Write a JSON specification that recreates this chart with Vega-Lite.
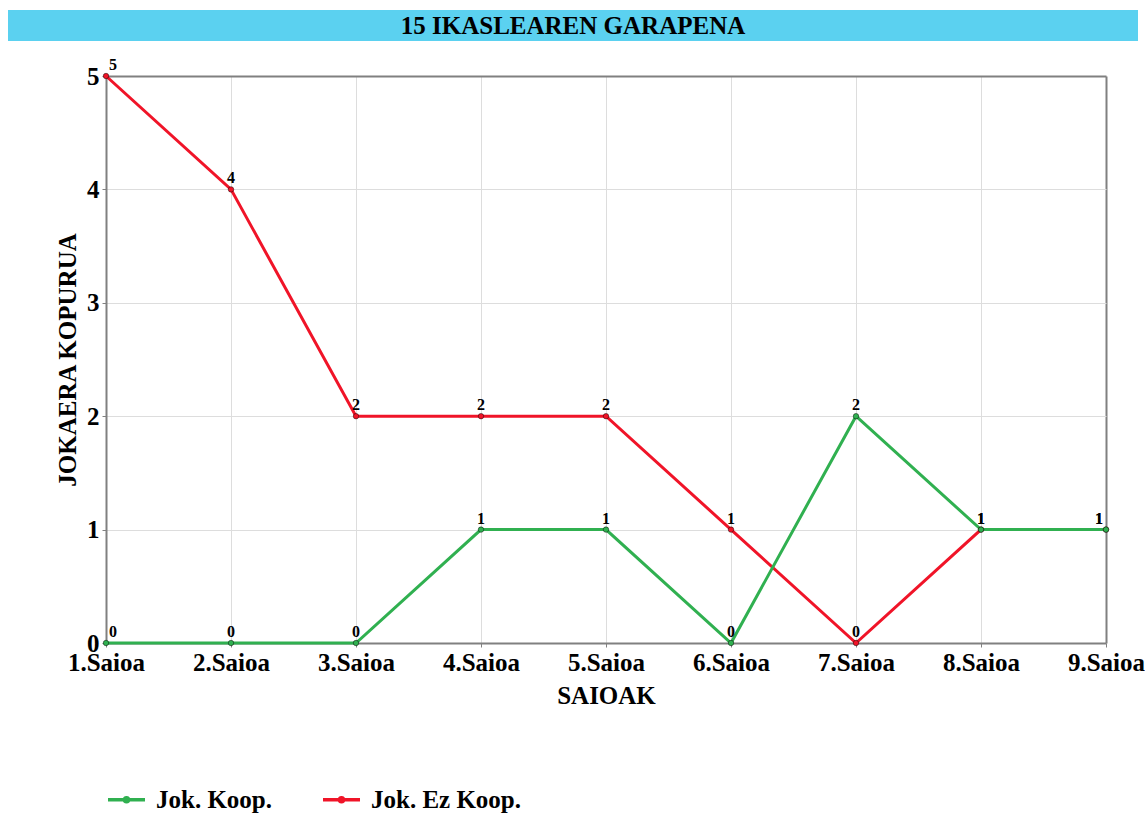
{
  "$schema": "https://vega.github.io/schema/vega-lite/v6.json",
  "padding": {"left": 8, "top": 10, "right": 5, "bottom": 2},
  "background": "white",
  "config": {"font": "Liberation Serif", "view": {"stroke": null}},
  "spacing": 16,
  "resolve": {"legend": {"color": "independent"}},
  "vconcat": [
    {
      "width": 1130,
      "height": 31,
      "view": {"fill": "#5BD1F0", "stroke": null},
      "data": {"values": [{"izenburua": "15 IKASLEAREN GARAPENA"}]},
      "mark": {"type": "text", "font": "Liberation Serif", "fontWeight": "bold", "fontSize": 25, "baseline": "middle", "align": "center", "color": "black"},
      "encoding": {"text": {"field": "izenburua", "type": "nominal"}}
    },
    {
      "spacing": 0,
      "resolve": {"legend": {"color": "independent"}},
      "hconcat": [
        {
          "width": 47,
          "height": 1,
          "view": {"stroke": null},
          "data": {"values": []},
          "mark": "point"
        },
        {
          "width": 1000,
          "height": 567,
          "view": {"stroke": null},
          "data": {
            "values": [
              {"saioa": "1.Saioa", "multzoa": "Jok. Ez Koop.", "balioa": 5},
              {"saioa": "2.Saioa", "multzoa": "Jok. Ez Koop.", "balioa": 4},
              {"saioa": "3.Saioa", "multzoa": "Jok. Ez Koop.", "balioa": 2},
              {"saioa": "4.Saioa", "multzoa": "Jok. Ez Koop.", "balioa": 2},
              {"saioa": "5.Saioa", "multzoa": "Jok. Ez Koop.", "balioa": 2},
              {"saioa": "6.Saioa", "multzoa": "Jok. Ez Koop.", "balioa": 1},
              {"saioa": "7.Saioa", "multzoa": "Jok. Ez Koop.", "balioa": 0},
              {"saioa": "8.Saioa", "multzoa": "Jok. Ez Koop.", "balioa": 1},
              {"saioa": "9.Saioa", "multzoa": "Jok. Ez Koop.", "balioa": 1},
              {"saioa": "1.Saioa", "multzoa": "Jok. Koop.", "balioa": 0},
              {"saioa": "2.Saioa", "multzoa": "Jok. Koop.", "balioa": 0},
              {"saioa": "3.Saioa", "multzoa": "Jok. Koop.", "balioa": 0},
              {"saioa": "4.Saioa", "multzoa": "Jok. Koop.", "balioa": 1},
              {"saioa": "5.Saioa", "multzoa": "Jok. Koop.", "balioa": 1},
              {"saioa": "6.Saioa", "multzoa": "Jok. Koop.", "balioa": 0},
              {"saioa": "7.Saioa", "multzoa": "Jok. Koop.", "balioa": 2},
              {"saioa": "8.Saioa", "multzoa": "Jok. Koop.", "balioa": 1},
              {"saioa": "9.Saioa", "multzoa": "Jok. Koop.", "balioa": 1}
            ]
          },
          "encoding": {
            "x": {
              "field": "saioa", "type": "nominal", "sort": null,
              "scale": {"type": "point", "padding": 0},
              "axis": {
                "title": "SAIOAK", "labelAngle": 0, "labelFontSize": 25, "labelFontWeight": "bold",
                "labelColor": "black", "labelPadding": 3, "tickSize": 4, "tickColor": "#808080",
                "domainColor": "#808080", "domainWidth": 2, "grid": true,
                "gridColor": {"condition": {"test": "datum.value === '9.Saioa'", "value": "#808080"}, "value": "#DDDDDD"},
                "gridWidth": {"condition": {"test": "datum.value === '9.Saioa'", "value": 2}, "value": 1},
                "titleFontSize": 25, "titleFontWeight": "bold", "titleColor": "black", "titlePadding": 8
              }
            },
            "y": {
              "field": "balioa", "type": "quantitative",
              "scale": {"domain": [0, 5], "nice": false},
              "axis": {
                "title": "JOKAERA KOPURUA", "values": [0, 1, 2, 3, 4, 5], "format": "d",
                "labelFontSize": 25, "labelFontWeight": "bold", "labelColor": "black", "labelPadding": 3,
                "tickSize": 4, "tickColor": "#808080", "domainColor": "#808080", "domainWidth": 2, "grid": true,
                "gridColor": {"condition": {"test": "datum.value === 5", "value": "#808080"}, "value": "#DDDDDD"},
                "gridWidth": {"condition": {"test": "datum.value === 5", "value": 2}, "value": 1},
                "titleFontSize": 25, "titleFontWeight": "bold", "titleColor": "black", "titlePadding": 6
              }
            }
          },
          "layer": [
            {
              "mark": {"type": "line", "strokeWidth": 3},
              "encoding": {
                "color": {
                  "field": "multzoa", "type": "nominal",
                  "scale": {"domain": ["Jok. Koop.", "Jok. Ez Koop."], "range": ["#30B050", "#F01428"]},
                  "legend": {
                    "title": null, "orient": "bottom", "direction": "horizontal",
                    "symbolType": "M-1,0L1,0M0.11,0A0.11,0.11,0,1,1,-0.11,0A0.11,0.11,0,1,1,0.11,0",
                    "symbolSize": 1369, "symbolStrokeWidth": 3.5,
                    "labelFontSize": 25, "labelFontWeight": "bold", "labelColor": "black", "labelFont": "Liberation Serif",
                    "labelOffset": 9, "columnPadding": 43, "offset": 71
                  }
                }
              }
            },
            {
              "mark": {"type": "point", "filled": true, "size": 30, "opacity": 1, "stroke": "black", "strokeOpacity": 0.45, "strokeWidth": 1},
              "encoding": {
                "color": {
                  "field": "multzoa", "type": "nominal",
                  "scale": {"domain": ["Jok. Koop.", "Jok. Ez Koop."], "range": ["#30B050", "#F01428"]},
                  "legend": {
                    "title": null, "orient": "bottom", "direction": "horizontal",
                    "symbolType": "M-1,0L1,0M0.11,0A0.11,0.11,0,1,1,-0.11,0A0.11,0.11,0,1,1,0.11,0",
                    "symbolSize": 1369, "symbolStrokeWidth": 3.5,
                    "labelFontSize": 25, "labelFontWeight": "bold", "labelColor": "black", "labelFont": "Liberation Serif",
                    "labelOffset": 9, "columnPadding": 43, "offset": 71
                  }
                }
              }
            },
            {
              "transform": [{"filter": "datum.saioa === '1.Saioa'"}],
              "mark": {"type": "text", "dx": 7, "dy": -6, "baseline": "alphabetic", "fontSize": 16, "fontWeight": "bold", "color": "black"},
              "encoding": {"text": {"field": "balioa", "type": "quantitative"}}
            },
            {
              "transform": [{"filter": "datum.saioa === '9.Saioa'"}],
              "mark": {"type": "text", "dx": -7, "dy": -6, "baseline": "alphabetic", "fontSize": 16, "fontWeight": "bold", "color": "black"},
              "encoding": {"text": {"field": "balioa", "type": "quantitative"}}
            },
            {
              "transform": [{"filter": "datum.saioa !== '1.Saioa' && datum.saioa !== '9.Saioa'"}],
              "mark": {"type": "text", "dy": -6, "baseline": "alphabetic", "fontSize": 16, "fontWeight": "bold", "color": "black"},
              "encoding": {"text": {"field": "balioa", "type": "quantitative"}}
            }
          ]
        }
      ]
    }
  ]
}
